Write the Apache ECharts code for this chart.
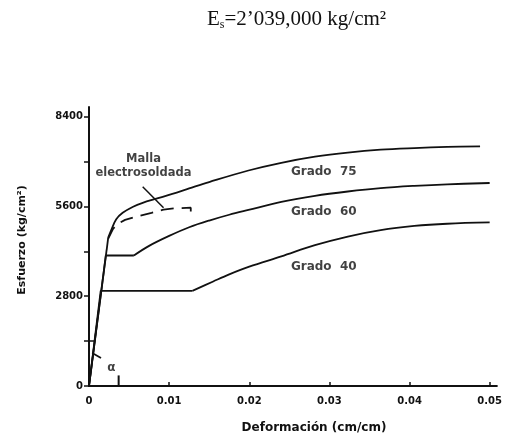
<!DOCTYPE html>
<html>
<head>
<meta charset="utf-8">
<script src="https://cdn.jsdelivr.net/npm/echarts@6/dist/echarts.min.js"></script>
<style>html,body{margin:0;padding:0;background:#fff}#c{width:505px;height:438px}</style>
</head>
<body>
<div id="c"></div>
<script>
// ---- data (strain cm/cm, stress kg/cm2) ----
const grado75 = [[0,0],[0.0024,4630],[0.0028,4880],[0.0034,5200],[0.0042,5400],[0.0055,5590],[0.0067,5710],[0.0084,5840],[0.0104,5990],[0.0125,6160],[0.0150,6360],[0.0199,6720],[0.0240,6960],[0.0282,7150],[0.0323,7280],[0.0364,7370],[0.0406,7420],[0.0447,7455],[0.0488,7475]];
const grado60 = [[0,0],[0.0021,4070],[0.0056,4070],[0.0075,4370],[0.0100,4680],[0.0125,4950],[0.0150,5160],[0.0175,5340],[0.0199,5490],[0.0240,5740],[0.0282,5930],[0.0323,6065],[0.0364,6170],[0.0406,6240],[0.0447,6290],[0.0500,6330]];
const grado40 = [[0,0],[0.00146,2967],[0.0129,2967],[0.0155,3260],[0.0175,3480],[0.0200,3720],[0.0240,4040],[0.0282,4390],[0.0323,4660],[0.0364,4860],[0.0406,4990],[0.0447,5060],[0.0500,5100]];
const malla = [[0.0024,4600],[0.0030,4900],[0.0036,5060],[0.0045,5180],[0.0059,5280],[0.0078,5400],[0.0093,5500],[0.0106,5540],[0.0127,5560],[0.0127,5210]];
const leader = [[0.0067,6215],[0.0093,5560]];
const alphaH = [[0,1400],[0.0007,1400]];
const alphaArc = [[0.0004,1030],[0.0015,875]];
const alphaTick = [[0.0037,330],[0.0037,0]];
const curveLabels = [[0.0293,6683,'Grado  75'],[0.0293,5434,'Grado  60'],[0.0293,3716,'Grado  40']];
const mallaLabel = [[0.0068,6870,'Malla\nelectrosoldada']];
const alphaLabel = [[0.0028,560,'α']];
const yTicks = [0,1400,2800,4200,5600,7000,8400];
const yLabels = [0,2800,5600,8400];
const xTicks = [0,0.01,0.02,0.03,0.04,0.05];
const xLabels = ['0','0.01','0.02','0.03','0.04','0.05'];

const F = 'DejaVu Sans';
const ink = '#111';
const LW = 1.8;
function line(data, opts) {
  return Object.assign({type:'line', data:data, symbol:'none', silent:true, animation:false,
    lineStyle:{color:ink,width:LW}}, opts||{});
}
function textSeries(data, size) {
  return {type:'scatter',data:data,symbolSize:0,silent:true,animation:false,
    label:{show:true,position:'inside',formatter:function(p){return p.data[2];},
      color:ink,fontFamily:F,fontWeight:'bold',fontSize:size,lineHeight:14,align:'center',verticalAlign:'middle'}};
}
const chart = echarts.init(document.getElementById('c'), null, {renderer:'canvas'});
chart.setOption({
  animation:false,
  backgroundColor:'#fff',
  grid:{left:89,right:5,top:107,bottom:52,containLabel:false},
  xAxis:{type:'value',min:0,max:0.0509,
    axisLine:{lineStyle:{color:ink,width:2}},
    axisTick:{inside:true,length:4,lineStyle:{color:ink,width:1.5},customValues:xTicks},
    axisLabel:{customValues:xTicks,margin:10,color:ink,fontFamily:F,fontWeight:'bold',fontSize:10,
      formatter:function(v){const i=xTicks.indexOf(v);return i>=0?xLabels[i]:'';}},
    splitLine:{show:false}},
  yAxis:{type:'value',min:0,max:8700,
    axisLine:{lineStyle:{color:ink,width:2}},
    axisTick:{length:5,lineStyle:{color:ink,width:1.5},customValues:yTicks},
    axisLabel:{customValues:yLabels,margin:6,color:ink,fontFamily:F,fontWeight:'bold',fontSize:10,
      formatter:function(v){return String(v);}},
    splitLine:{show:false}},
  graphic:[
    {type:'text',x:207,y:8,style:{rich:{
        a:{fontFamily:'Liberation Serif',fontSize:21,fill:ink},
        s:{fontFamily:'Liberation Serif',fontSize:12,fill:ink,verticalAlign:'bottom',padding:[11,0,0,0]}},
      text:'{a|E}{s|s}{a|=2’039,000 kg/cm²}'}},
    {type:'text',x:314,y:428,style:{text:'Deformación (cm/cm)',font:'bold 12px "DejaVu Sans"',fill:ink,textAlign:'center',textVerticalAlign:'middle'}},
    {type:'text',x:22,y:240,rotation:Math.PI/2,style:{text:'Esfuerzo (kg/cm²)',font:'bold 11px "DejaVu Sans"',fill:ink,textAlign:'center',textVerticalAlign:'middle'}}
  ],
  series:[
    line(grado75.slice(0,2)),
    line(grado75.slice(1),{smooth:0.35}),
    line(grado60.slice(0,3)),
    line(grado60.slice(2),{smooth:0.35}),
    line(grado40.slice(0,3)),
    line(grado40.slice(2),{smooth:0.35}),
    line(malla,{lineStyle:{color:ink,width:LW,type:[13,8],dashOffset:0}}),
    line(leader,{lineStyle:{color:ink,width:1.5}}),
    line(alphaH,{lineStyle:{color:ink,width:1.5}}),
    line(alphaArc,{lineStyle:{color:ink,width:1.8}}),
    line(alphaTick,{lineStyle:{color:ink,width:2}}),
    textSeries(curveLabels, 12),
    textSeries(mallaLabel, 11.5),
    textSeries(alphaLabel, 12)
  ]
});
</script>
</body>
</html>
